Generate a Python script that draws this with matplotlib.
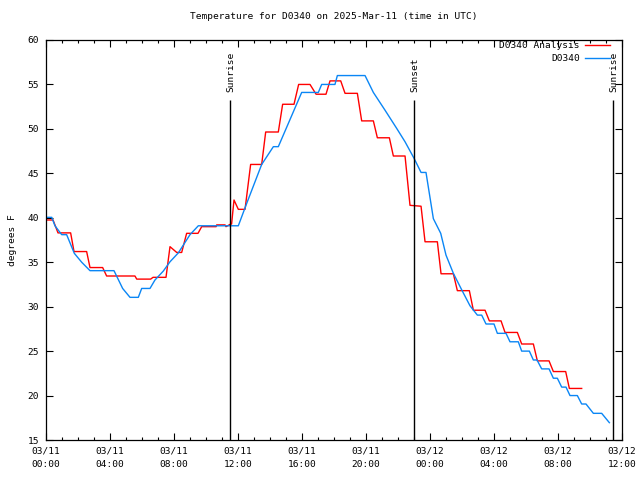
import matplotlib
matplotlib.use("Agg")
import matplotlib.pyplot as plt
from matplotlib.ticker import MultipleLocator

# hours since 2025-03-11 00:00 UTC
red_hours = [0.0, 0.44, 0.75, 1.54, 1.75, 2.54, 2.75, 3.54, 3.79, 5.56, 5.67, 6.54,
             6.69, 7.5, 7.75, 8.17, 8.48, 8.79, 9.5, 9.73, 10.63, 10.67, 11.19, 11.25,
             11.5, 11.6, 11.75, 12.02, 12.44, 12.79, 13.48, 13.73, 14.52, 14.79, 15.5,
             15.79, 16.5, 16.88, 17.5, 17.75, 18.42, 18.69, 19.46, 19.73, 20.46, 20.71,
             21.46, 21.71, 22.44, 22.75, 23.44, 23.69, 24.46, 24.69, 25.46, 25.71, 26.46,
             26.71, 27.44, 27.71, 28.44, 28.69, 29.46, 29.73, 30.46, 30.71, 31.44, 31.71,
             32.48, 32.71, 33.48]
red_temps = [39.75, 39.75, 38.3, 38.3, 36.2, 36.2, 34.4, 34.4, 33.45, 33.45, 33.1, 33.1,
             33.3, 33.3, 36.75, 36.1, 36.1, 38.25, 38.25, 39.0, 39.0, 39.2, 39.2, 39.0,
             39.25, 39.3, 42.0, 40.95, 40.95, 46.0, 46.0, 49.65, 49.65, 52.77, 52.77,
             55.0, 55.0, 53.9, 53.9, 55.4, 55.4, 54.0, 54.0, 50.9, 50.9, 49.0,
             49.0, 46.95, 46.95, 41.4, 41.3, 37.3, 37.3, 33.7, 33.7, 31.8, 31.8,
             29.6, 29.6, 28.4, 28.4, 27.1, 27.1, 25.8, 25.8, 23.9, 23.9, 22.7,
             22.7, 20.8, 20.8]

blue_hours = [0.0, 0.36, 0.56, 0.98, 1.29, 1.77, 2.23, 2.75, 4.25, 4.79, 5.25, 5.77,
              5.98, 6.5, 6.81, 7.33, 7.75, 8.27, 9.0, 9.52, 12.02, 12.54, 13.48, 14.21,
              14.52, 15.98, 17.02, 17.23, 18.06, 18.21, 19.94, 20.46, 21.19, 21.92, 22.44,
              23.0, 23.44, 23.75, 24.21, 24.67, 25.0, 25.46, 25.98, 26.5, 26.96, 27.23,
              27.5, 28.0, 28.21, 28.75, 29.0, 29.52, 29.73, 30.21, 30.46, 30.69, 30.98,
              31.44, 31.71, 31.96, 32.23, 32.5, 32.75, 33.21, 33.48, 33.75, 34.21, 34.73,
              35.21]
blue_temps = [40.05, 40.05, 39.1, 38.1, 38.1, 36.0, 35.0, 34.05, 34.05, 32.05, 31.05, 31.05,
              32.05, 32.05, 33.0, 34.0, 35.05, 36.05, 38.1, 39.1, 39.1, 41.6, 46.0, 48.0,
              48.0, 54.1, 54.1, 55.0, 55.0, 56.0, 56.0, 54.1, 52.1, 50.05, 48.55,
              46.7, 45.1, 45.1, 39.9, 38.25, 35.8, 33.75, 31.9, 30.1, 29.05, 29.05,
              28.05, 28.05, 27.0, 27.0, 26.05, 26.05, 25.0, 25.0, 24.0, 24.0, 23.0,
              23.0, 21.95, 21.95, 20.95, 20.95, 20.0, 20.0, 19.05, 19.05, 18.0, 18.0,
              16.95]

sun_hours = [11.5, 23.0, 35.45]
sun_labels = ["Sunrise", "Sunset", "Sunrise"]

tick_hours = [0, 4, 8, 12, 16, 20, 24, 28, 32, 36]
tick_labels = ["03/11\n00:00", "03/11\n04:00", "03/11\n08:00", "03/11\n12:00",
               "03/11\n16:00", "03/11\n20:00", "03/12\n00:00", "03/12\n04:00",
               "03/12\n08:00", "03/12\n12:00"]

font = "DejaVu Sans Mono"
fs = 6.8
plt.rcParams["font.family"] = font

fig = plt.figure(figsize=(6.4, 4.8), dpi=100)
ax = fig.add_axes([46 / 640, 40 / 480, 576 / 640, 400 / 480])

ax.plot(red_hours, red_temps, color="#ff0000", lw=1.0, label="D0340 Analysis")
ax.plot(blue_hours, blue_temps, color="#0a86f5", lw=1.0, label="D0340")

for h, lab in zip(sun_hours, sun_labels):
    ax.vlines(h, 15, 53.3, color="black", lw=1.0)
    ax.text(h + 0.05, 54.1, lab, rotation=90, ha="center", va="bottom", fontsize=fs)

ax.set_xlim(0, 36)
ax.set_ylim(15, 60)
ax.set_xticks(tick_hours)
ax.set_xticklabels(tick_labels)
ax.xaxis.set_minor_locator(MultipleLocator(1))
ax.yaxis.set_major_locator(MultipleLocator(5))
for t in ax.get_xticklabels():
    t.set_linespacing(1.55)

ax.tick_params(which="both", direction="in", top=True, right=True, labelsize=fs, width=0.8)
ax.tick_params(which="major", length=5, pad=5)
ax.tick_params(which="minor", length=2.5)
for s in ax.spines.values():
    s.set_linewidth(0.9)

ax.set_ylabel("degrees F", fontsize=fs)
ax.yaxis.set_label_coords(-0.051, 0.5)
ax.set_title("Temperature for D0340 on 2025-Mar-11 (time in UTC)", fontsize=fs, pad=15)

ax.legend(loc="upper right", bbox_to_anchor=(0.979, 0.997), frameon=False,
          markerfirst=False, fontsize=fs, handlelength=2.6, handletextpad=0.6,
          labelspacing=0.45, borderpad=0, borderaxespad=0)

fig.savefig("out.png", dpi=100)
